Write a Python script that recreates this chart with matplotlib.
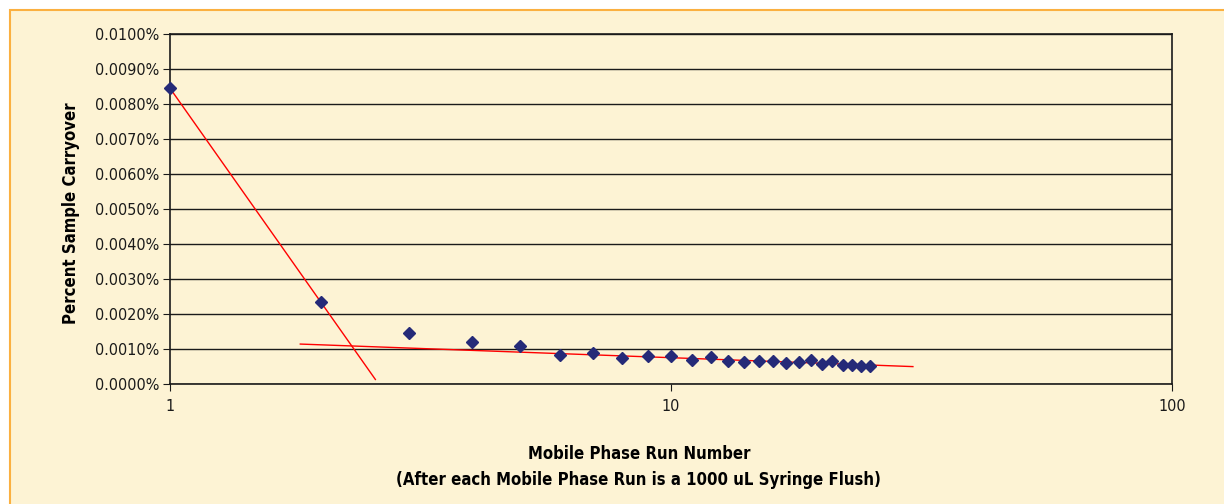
import numpy as np
import matplotlib.pyplot as plt
from matplotlib.patches import Rectangle
from matplotlib.ticker import FuncFormatter, FixedLocator

plt.rcParams['font.family'] = ['DejaVu Sans']
plt.rcParams['font.stretch'] = 'condensed'

# Carryover per mobile phase run (values in %)
runs = np.arange(1, 26)
carryover = np.array([
    0.00845, 0.00234, 0.00146, 0.00120, 0.00110, 0.00083, 0.00088, 0.00075,
    0.00080, 0.00080, 0.00069, 0.00077, 0.00066, 0.00062, 0.00066, 0.00066,
    0.00059, 0.00064, 0.00070, 0.00056, 0.00066, 0.00054, 0.00054, 0.00052,
    0.00052,
])
y_ticks = np.arange(0, 0.0101, 0.001)

# logarithmic trendlines (fit on subsets, like the spreadsheet did)
fit1_runs = slice(0, 2)
fit1_span = (1.0, 2.57)
fit2_runs = slice(5, 25)
fit2_span = (1.82, 30.4)

CREAM = '#FDF3D4'
ORANGE = '#FBB040'
NAVY = '#252A78'

fig = plt.figure(figsize=(12.24, 5.04), dpi=100)
fig.patch.set_facecolor('white')
fig.patches.append(Rectangle((10 / 1224, -0.1), 1.2, (494 / 504) + 0.1,
                             transform=fig.transFigure, facecolor=CREAM,
                             edgecolor=ORANGE, linewidth=1.5, zorder=-1))

ax = fig.add_axes([170 / 1224, 120 / 504, 1002 / 1224, 350 / 504])
ax.set_zorder(1)
ax.set_facecolor(CREAM)
ax.set_xscale('log')
ax.set_xlim(1, 100)
ax.set_ylim(0, 0.01)

ax.yaxis.set_major_locator(FixedLocator(y_ticks))
ax.yaxis.set_major_formatter(FuncFormatter(lambda v, p: f'{v:.4f}%'))
ax.xaxis.set_major_formatter(FuncFormatter(lambda v, p: f'{v:g}'))
ax.xaxis.set_minor_locator(FixedLocator([]))
ax.grid(axis='y', color='#1a1a1a', linewidth=1.0)
ax.set_axisbelow(True)
for s in ax.spines.values():
    s.set_color('#1a1a1a')
    s.set_linewidth(1.2)
ax.tick_params(axis='both', labelsize=11.5, length=5, color='#1a1a1a',
               labelcolor='#1a1a1a')
ax.tick_params(axis='y', pad=3)
ax.tick_params(axis='x', pad=6)

# trendlines
for sl, span in [(fit1_runs, fit1_span), (fit2_runs, fit2_span)]:
    b, a = np.polyfit(np.log(runs[sl]), carryover[sl], 1)
    xs = np.array(span)
    ax.plot(xs, a + b * np.log(xs), color='#FF0000', linewidth=1.0, zorder=2)

ax.plot(runs, carryover, linestyle='none', marker='D', markersize=6,
        color=NAVY, markeredgecolor=NAVY, zorder=3, clip_on=False)

ax.set_ylabel('Percent Sample Carryover', fontsize=12, fontweight='bold')
ax.yaxis.set_label_coords(-0.0898, 0.489)
ax.set_xlabel('Mobile Phase Run Number\n'
              '(After each Mobile Phase Run is a 1000 uL Syringe Flush)',
              fontsize=12, fontweight='bold', linespacing=1.55)
ax.xaxis.set_label_coords(0.468, -0.175)

fig.savefig('out.png', dpi=100, facecolor=fig.get_facecolor())
